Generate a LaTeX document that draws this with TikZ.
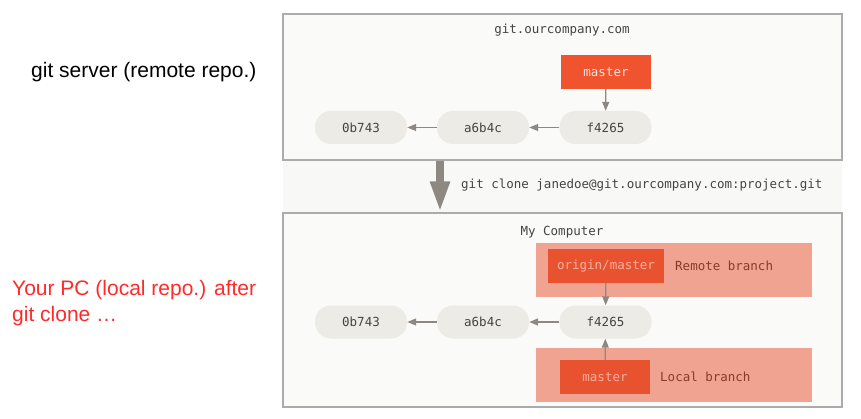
\documentclass[tikz,border=0pt]{standalone}
\usepackage{fontspec}
\setmainfont{Liberation Sans}
\setmonofont{DejaVu Sans Mono}
\usetikzlibrary{arrows.meta}
\definecolor{boxline}{HTML}{ABABAB}
\definecolor{boxfill}{HTML}{FAFAF8}
\definecolor{gapfill}{HTML}{F8F8F6}
\definecolor{commitfill}{HTML}{ECEBE5}
\definecolor{committext}{HTML}{444442}
\definecolor{arrowgray}{HTML}{8E8883}
\definecolor{branchred}{HTML}{F0542F}
\definecolor{branchdark}{HTML}{E9522F}
\definecolor{branchtext}{HTML}{F4B2A2}
\definecolor{bandfill}{HTML}{F0A390}
\definecolor{bandtext}{HTML}{8A3A2A}
\definecolor{pcred}{HTML}{FF2A2A}
\tikzset{
  repobox/.style={draw=boxline, line width=1.2pt, fill=boxfill, minimum width=559pt, inner sep=0pt},
  commit/.style={fill=commitfill, rounded corners=16pt, minimum width=92pt, minimum height=33pt, inner sep=0pt, text=committext, font=\ttfamily\fontsize{12.5}{14}\selectfont},
  branch/.style={fill=branchred, minimum height=34pt, inner sep=0pt, text=branchtext, font=\ttfamily\fontsize{12.5}{14}\selectfont},
  caption/.style={text=committext, font=\ttfamily\fontsize{12.5}{14}\selectfont},
  bandlabel/.style={anchor=west, inner sep=0pt, text=bandtext, font=\ttfamily\fontsize{12.5}{14}\selectfont},
  parent/.style={draw=arrowgray, line width=1.3pt, -{Triangle[length=9pt,width=7pt]}},
  clone/.style={draw=arrowgray, line width=8pt, -{Triangle[length=31pt,width=18pt]}},
  side/.style={anchor=west, inner sep=0pt, font=\fontsize{21}{26}\selectfont}
}
\begin{document}
\begin{tikzpicture}[x=1pt, y=-1pt]
\useasboundingbox (0,0) rectangle (861,419);
\fill[gapfill] (283,14) rectangle (842,407);
\node[repobox, minimum height=146pt] (server) at (562.5,87) {};
\node[repobox, minimum height=194pt] (local) at (562.5,310) {};
\node[caption] (servername) at (562,30) {git.ourcompany.com};
\node[caption] (pcname) at (562,232) {My Computer};
\node[side] (servertext) at (31,72) {git server (remote repo.)};
\node[side, text=pcred, align=left] (pctext) at (12,303) {Your PC (local repo.) after\\git clone \char"2026};
\node[commit] (s0) at (361,127.5) {0b743};
\node[commit] (s1) at (483,127.5) {a6b4c};
\node[commit] (s2) at (605.5,127.5) {f4265};
\node[branch, minimum width=90pt, text=white!85!branchred] (smaster) at (606,72) {master};
\draw[parent] (s1) -- (s0);
\draw[parent] (s2) -- (s1);
\draw[parent] (smaster) -- (s2);
\coordinate (clonex) at (440,0);
\draw[clone] (server.south -| clonex) -- (local.north -| clonex);
\node[anchor=west, inner sep=0pt, text=committext, font=\ttfamily\fontsize{12.5}{14}\selectfont] (clonecmd) at (461,185) {git clone janedoe@git.ourcompany.com:project.git};
\fill[bandfill] (536,243) rectangle (812,297);
\fill[bandfill] (536,348) rectangle (812,402);
\node[commit] (l0) at (361,322) {0b743};
\node[commit] (l1) at (483,322) {a6b4c};
\node[commit] (l2) at (605.5,322) {f4265};
\node[branch, fill=branchdark, minimum width=116pt] (origin) at (606,266) {origin/master};
\node[branch, fill=branchdark, minimum width=90pt] (lmaster) at (605,377) {master};
\node[bandlabel] (remotelabel) at (675,266) {Remote branch};
\node[bandlabel] (locallabel) at (660,377) {Local branch};
\draw[parent] (l1) -- (l0);
\draw[parent] (l2) -- (l1);
\draw[parent] (origin) -- (l2);
\draw[parent] (lmaster) -- (l2);
\end{tikzpicture}
\end{document}
